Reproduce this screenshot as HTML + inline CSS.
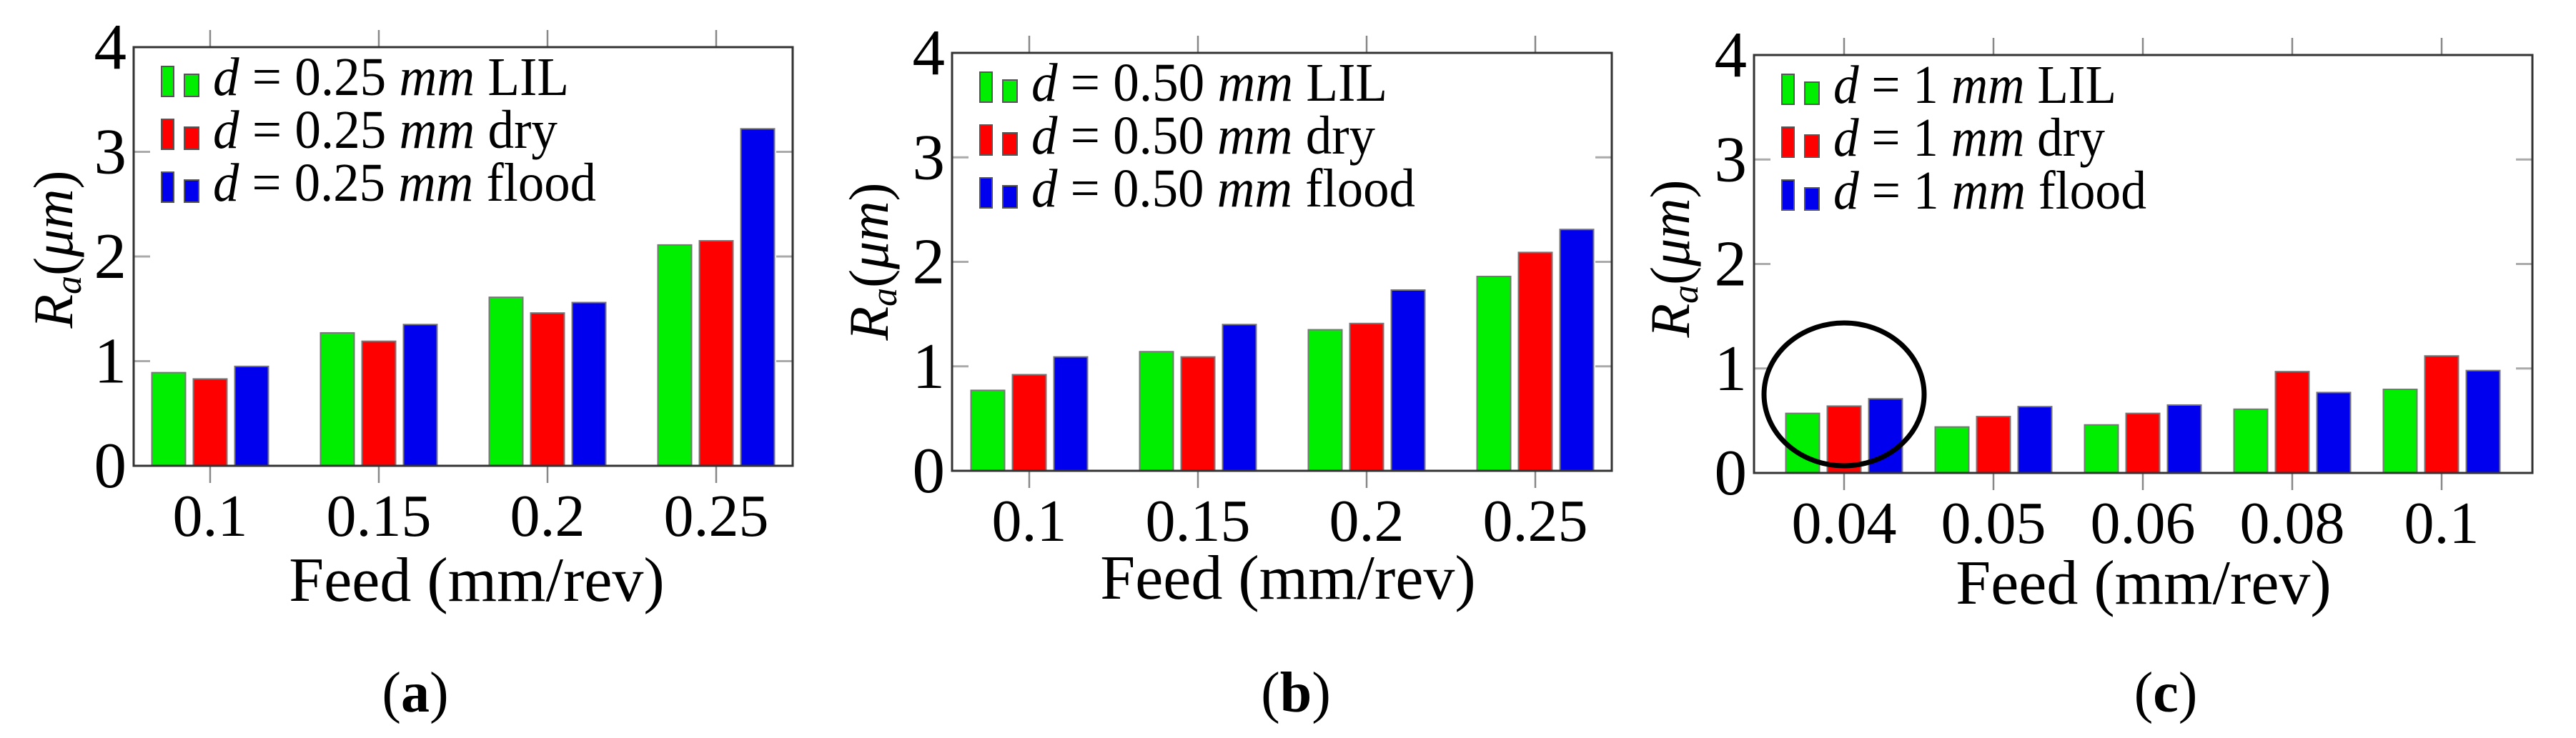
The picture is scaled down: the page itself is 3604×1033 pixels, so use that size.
<!DOCTYPE html>
<html><head><meta charset="utf-8"><style>
html,body{margin:0;padding:0;background:#fff;}
svg{display:block;}
svg text{font-family:"Liberation Serif","Times New Roman",serif;}
</style></head><body>
<svg id="fig" width="3604" height="1033" viewBox="0 0 3604 1033" xmlns="http://www.w3.org/2000/svg" font-family="Liberation Serif, serif"></svg>
<script>
// ---- data ----
const catsA = ["0.1","0.15","0.2","0.25"];
const lilA = [0.89, 1.27, 1.61, 2.11];
const dryA = [0.83, 1.19, 1.46, 2.15];
const floodA = [0.95, 1.35, 1.56, 3.22];
const catsB = ["0.1","0.15","0.2","0.25"];
const lilB = [0.77, 1.14, 1.35, 1.86];
const dryB = [0.92, 1.09, 1.41, 2.09];
const floodB = [1.09, 1.40, 1.73, 2.31];
const catsC = ["0.04","0.05","0.06","0.08","0.1"];
const lilC = [0.57, 0.44, 0.46, 0.61, 0.80];
const dryC = [0.64, 0.54, 0.57, 0.97, 1.12];
const floodC = [0.71, 0.635, 0.65, 0.77, 0.98];
const yTicks = ["0","1","2","3","4"];
const depthLabels = ["0.25","0.50","1"];
const seriesNames = ["LIL","dry","flood"];

const NS = "http://www.w3.org/2000/svg";
const svg = document.getElementById("fig");
const FONT = "'Liberation Serif', serif";
function mk(tag, attrs, parent){
  const e = document.createElementNS(NS, tag);
  for (const k in attrs) e.setAttribute(k, attrs[k]);
  if (tag === "text") e.setAttribute("font-family", FONT);
  (parent||svg).appendChild(e);
  return e;
}
const colors = ["#00ee00","#ff0000","#0000ee"];

function panel(id, box, cats, series, depth, legW, titleX, titleY, feedX, feedY, tagX, tagLetter){
  const g = mk("g", {});
  
  
  const {left, top, right, bottom, pad, step} = box;
  const ymax = 4;
  const yScale = v => bottom - v / ymax * (bottom - top);
  const xScale = i => left + pad + i * step;
  yTicks.forEach((t) => {
    const v = +t, y = yScale(v);
    if (v > 0 && v < ymax) {
      const l1 = mk("line", {x1:left, x2:left+23, y1:y, y2:y, stroke:"#aaa", "stroke-width":3}, g);
      
      
      const l2 = mk("line", {x1:right-23, x2:right, y1:y, y2:y, stroke:"#aaa", "stroke-width":3}, g);
      
      
    }
    const tx = mk("text", {x:left-10, y:y+30, "text-anchor":"end", "font-size":91, fill:"#000"}, g);
    tx.textContent = t;
    
    
  });
  cats.forEach((c, i) => {
    const x = xScale(i);
    const t1 = mk("line", {x1:x, x2:x, y1:top-24, y2:top, stroke:"#888", "stroke-width":2.5}, g);
    
    
    const t2 = mk("line", {x1:x, x2:x, y1:bottom, y2:bottom+24, stroke:"#888", "stroke-width":2.5}, g);
    
    
    const tx = mk("text", {x:x, y:bottom+98, "text-anchor":"middle", "font-size":84, fill:"#000"}, g);
    tx.textContent = c;
    
    
  });
  const offs = [-58, 0, 58], bw = 47;
  series.forEach((vals, s) => {
    vals.forEach((v, i) => {
      const cx = xScale(i) + offs[s];
      const y = yScale(v);
      const r = mk("rect", {x:cx-bw/2, y:y, width:bw, height:bottom-y, fill:colors[s], stroke:"#777", "stroke-width":2}, g);
      
      
    });
  });
  const fr = mk("rect", {x:left, y:top, width:right-left, height:bottom-top, fill:"none", stroke:"#333", "stroke-width":3}, g);
  
  
  seriesNames.forEach((n, s) => {
    const by = top + 69 + s * 74;
    const lg = mk("g", {}, g);
    
    
    mk("rect", {x:left+39, y:by-42, width:17, height:42, fill:colors[s], stroke:"#555", "stroke-width":2}, lg);
    mk("rect", {x:left+71, y:by-31, width:20, height:31, fill:colors[s], stroke:"#555", "stroke-width":2}, lg);
    const tx = mk("text", {x:left+111, y:by-2, "font-size":76, fill:"#000", textLength:legW[s], lengthAdjust:"spacingAndGlyphs"}, lg);
    const a = mk("tspan", {"font-style":"italic"}, tx); a.textContent = "d";
    const b = mk("tspan", {}, tx); b.textContent = " = " + depth + " ";
    const c = mk("tspan", {"font-style":"italic"}, tx); c.textContent = "mm";
    const d = mk("tspan", {}, tx); d.textContent = " " + n;
  });
  const yt = mk("text", {x:0, y:0, "text-anchor":"middle", "font-size":78, fill:"#000",
    transform:"translate(" + (titleX + 26) + "," + titleY + ") rotate(-90)"}, g);
  
  
  const r1 = mk("tspan", {"font-style":"italic"}, yt); r1.textContent = "R";
  const r2 = mk("tspan", {"font-style":"italic", "font-size":52, dy:12}, yt); r2.textContent = "a";
  const r3 = mk("tspan", {dy:-12}, yt); r3.textContent = "(";
  const r4 = mk("tspan", {"font-style":"italic"}, yt); r4.textContent = "μm";
  const r5 = mk("tspan", {}, yt); r5.textContent = ")";
  const xt = mk("text", {x:feedX, y:feedY, "text-anchor":"middle", "font-size":88, fill:"#000"}, g);
  xt.textContent = "Feed (mm/rev)";
  
  
  const pt = mk("text", {x:tagX, y:996, "text-anchor":"middle", "font-size":80, fill:"#000"}, g);
  
  
  const p1 = mk("tspan", {}, pt); p1.textContent = "(";
  const p2 = mk("tspan", {"font-weight":"bold"}, pt); p2.textContent = tagLetter;
  const p3 = mk("tspan", {}, pt); p3.textContent = ")";
  return {xScale, yScale};
}

panel("a", {left:187, top:66, right:1109, bottom:652, pad:107, step:236}, catsA, [lilA, dryA, floodA], depthLabels[0], [498,482,536], 75, 349, 667, 841, 581, "a");
panel("b", {left:1332, top:74, right:2255, bottom:659, pad:108, step:236}, catsB, [lilB, dryB, floodB], depthLabels[1], [498,481,537], 1216, 366, 1802, 838, 1813, "b");
const pc = panel("c", {left:2454, top:77, right:3543, bottom:662, pad:126, step:209}, catsC, [lilC, dryC, floodC], depthLabels[2], [396,380,438], 2337, 362, 2999, 845, 3030, "c");

const circ = mk("ellipse", {cx:pc.xScale(0), cy:552, rx:112, ry:100, fill:"none", stroke:"#000", "stroke-width":7});


</script>
</body></html>
